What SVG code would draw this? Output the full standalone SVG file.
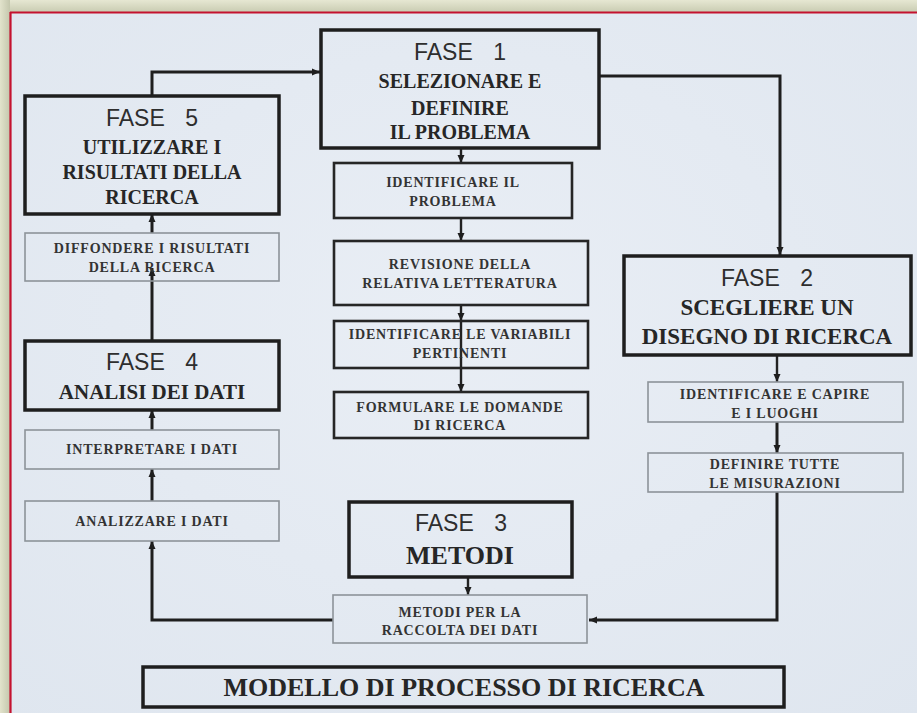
<svg xmlns="http://www.w3.org/2000/svg" width="917" height="713" viewBox="0 0 917 713">
<defs>
<linearGradient id="frameTop" x1="0" y1="0" x2="0" y2="1">
<stop offset="0" stop-color="#e6e7d2"/>
<stop offset="1" stop-color="#c9ccb2"/>
</linearGradient>
<linearGradient id="frameLeft" x1="0" y1="0" x2="1" y2="0">
<stop offset="0" stop-color="#e2e3cc"/>
<stop offset="1" stop-color="#c4c7ad"/>
</linearGradient>
<radialGradient id="bg" cx="0.5" cy="0.45" r="0.75">
<stop offset="0" stop-color="#e9eef5"/>
<stop offset="1" stop-color="#dfe6ef"/>
</radialGradient>
<marker id="arr" markerUnits="userSpaceOnUse" markerWidth="9" markerHeight="8" refX="8" refY="4" orient="auto">
<path d="M0,0.5 L8,4 L0,7.5 z" fill="#1e1e1e"/>
</marker>
</defs>
<style>
.fase{fill:none;stroke:#1e1e1e;stroke-width:3.5}
.mid{fill:none;stroke:#262626;stroke-width:2.6}
.thin{fill:none;stroke:#8d9399;stroke-width:1.6}
.h{font-family:"Liberation Sans",Arial,sans-serif;font-size:23px;fill:#2e2e2e;text-anchor:middle;word-spacing:14px}
.b{font-family:"Liberation Serif","Times New Roman",serif;font-weight:bold;fill:#262626;text-anchor:middle}
.b20{font-size:20px}
.b23{font-size:23px}
.s{font-family:"Liberation Serif","Times New Roman",serif;font-weight:bold;fill:#333;text-anchor:middle;font-size:14px;letter-spacing:0.8px}
.c{fill:none;stroke:#1e1e1e;stroke-width:3}
.c2{fill:none;stroke:#222;stroke-width:2.4}
</style>
<rect x="0" y="0" width="917" height="713" fill="url(#bg)"/>
<rect x="0" y="0" width="917" height="12" fill="url(#frameTop)"/>
<rect x="0" y="0" width="10" height="713" fill="url(#frameLeft)"/>
<line x1="10" y1="12.5" x2="917" y2="12.5" stroke="#c4122f" stroke-width="2.2"/>
<line x1="10.5" y1="12" x2="10.5" y2="713" stroke="#c4122f" stroke-width="2.2"/>

<g id="connectors">
<path class="c" d="M152,96 V72 H320" marker-end="url(#arr)"/>
<path class="c" d="M599,76 H780 V255" marker-end="url(#arr)"/>
<path class="c2" d="M461,148 V163" marker-end="url(#arr)"/>
<path class="c2" d="M461,218 V241" marker-end="url(#arr)"/>
<path class="c2" d="M461,305 V321" marker-end="url(#arr)"/>
<path class="c2" d="M461,321 V392" marker-end="url(#arr)"/>
<path class="c2" d="M777,355 V382" marker-end="url(#arr)"/>
<path class="c" d="M777,422 V453" marker-end="url(#arr)"/>
<path class="c" d="M777,492 V620 H589" marker-end="url(#arr)"/>
<path class="c2" d="M468,577 V595" marker-end="url(#arr)"/>
<path class="c" d="M333,620 H152 V541" marker-end="url(#arr)"/>
<path class="c" d="M152,501 V469" marker-end="url(#arr)"/>
<path class="c" d="M152,430 V410" marker-end="url(#arr)"/>
<path class="c" d="M152,341 V268" marker-end="url(#arr)"/>
<path class="c" d="M152,233 V214" marker-end="url(#arr)"/>
</g>

<g id="fase1">
<rect class="fase" x="321" y="30" width="278" height="118"/>
<text class="h" x="460" y="60">FASE 1</text>
<text class="b b20" x="460" y="88">SELEZIONARE E</text>
<text class="b b20" x="460" y="115">DEFINIRE</text>
<text class="b b20" x="460" y="139">IL PROBLEMA</text>
</g>

<g id="identificare-problema">
<rect class="mid" x="334" y="163" width="238" height="55"/>
<text class="s" x="453" y="187">IDENTIFICARE IL</text>
<text class="s" x="453" y="206">PROBLEMA</text>
</g>

<g id="revisione">
<rect class="mid" x="334" y="241" width="254" height="64"/>
<text class="s" x="460" y="269">REVISIONE DELLA</text>
<text class="s" x="460" y="288">RELATIVA LETTERATURA</text>
</g>

<g id="variabili">
<rect class="mid" x="334" y="321" width="254" height="47"/>
<text class="s" x="460" y="339">IDENTIFICARE LE VARIABILI</text>
<text class="s" x="460" y="358">PERTINENTI</text>
</g>

<g id="domande">
<rect class="mid" x="334" y="392" width="254" height="46"/>
<text class="s" x="460" y="412">FORMULARE LE DOMANDE</text>
<text class="s" x="460" y="430">DI RICERCA</text>
</g>

<g id="fase2">
<rect class="fase" x="624" y="256" width="287" height="99"/>
<text class="h" x="767" y="286">FASE 2</text>
<text class="b b23" x="767" y="315">SCEGLIERE UN</text>
<text class="b b23" x="767" y="344">DISEGNO DI RICERCA</text>
</g>

<g id="luoghi">
<rect class="thin" x="648" y="382" width="255" height="40"/>
<text class="s" x="775" y="399">IDENTIFICARE E CAPIRE</text>
<text class="s" x="775" y="418">E I LUOGHI</text>
</g>

<g id="misurazioni">
<rect class="thin" x="648" y="453" width="255" height="39"/>
<text class="s" x="775" y="469">DEFINIRE TUTTE</text>
<text class="s" x="775" y="488">LE MISURAZIONI</text>
</g>

<g id="fase3">
<rect class="fase" x="349" y="502" width="223" height="75"/>
<text class="h" x="461" y="531">FASE 3</text>
<text class="b" x="460" y="564" font-size="26px">METODI</text>
</g>

<g id="raccolta">
<rect class="thin" x="333" y="595" width="254" height="48"/>
<text class="s" x="460" y="617">METODI PER LA</text>
<text class="s" x="460" y="635">RACCOLTA DEI DATI</text>
</g>

<g id="analizzare">
<rect class="thin" x="25" y="501" width="254" height="40"/>
<text class="s" x="152" y="526">ANALIZZARE I DATI</text>
</g>

<g id="interpretare">
<rect class="thin" x="25" y="430" width="254" height="39"/>
<text class="s" x="152" y="454">INTERPRETARE I DATI</text>
</g>

<g id="fase4">
<rect class="fase" x="25" y="341" width="254" height="69"/>
<text class="h" x="152" y="370">FASE 4</text>
<text class="b" x="152" y="399" font-size="21px">ANALISI DEI DATI</text>
</g>

<g id="diffondere">
<rect class="thin" x="25" y="233" width="254" height="48"/>
<text class="s" x="152" y="253">DIFFONDERE I RISULTATI</text>
<text class="s" x="152" y="272">DELLA RICERCA</text>
</g>

<g id="fase5">
<rect class="fase" x="25" y="96" width="254" height="118"/>
<text class="h" x="152" y="126">FASE 5</text>
<text class="b b20" x="152" y="154">UTILIZZARE I</text>
<text class="b b20" x="152" y="179">RISULTATI DELLA</text>
<text class="b b20" x="152" y="204">RICERCA</text>
</g>

<g id="titolo">
<rect class="fase" x="143" y="667" width="641" height="40"/>
<text class="b" x="464" y="696" font-size="26px">MODELLO DI PROCESSO DI RICERCA</text>
</g>
</svg>
